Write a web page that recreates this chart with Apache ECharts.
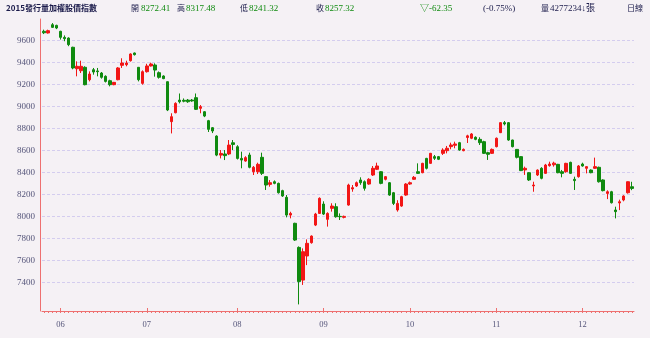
<!DOCTYPE html>
<html><head><meta charset="utf-8">
<script src="https://cdn.jsdelivr.net/npm/echarts@6/dist/echarts.min.js"></script>
<style>html,body{margin:0;padding:0;background:#ffffff}#c{width:650px;height:338px}</style>
</head><body><div id="c"></div>
<script>
const dates = [
'05/26','05/27','05/28','05/29',
'06/01','06/02','06/03','06/04','06/05','06/08','06/09','06/10','06/11','06/12','06/15','06/16','06/17','06/18','06/22','06/23','06/24','06/25','06/26','06/29','06/30',
'07/01','07/02','07/03','07/06','07/07','07/08','07/09','07/13','07/14','07/15','07/16','07/17','07/20','07/21','07/22','07/23','07/24','07/27','07/28','07/29','07/30','07/31',
'08/03','08/04','08/05','08/06','08/07','08/10','08/11','08/12','08/13','08/14','08/17','08/18','08/19','08/20','08/21','08/24','08/25','08/26','08/27','08/28','08/31',
'09/01','09/02','09/03','09/04','09/07','09/08','09/09','09/10','09/11','09/14','09/15','09/16','09/17','09/18','09/21','09/22','09/23','09/24','09/25','09/29','09/30',
'10/01','10/02','10/05','10/06','10/07','10/08','10/12','10/13','10/14','10/15','10/16','10/19','10/20','10/21','10/22','10/23','10/26','10/27','10/28','10/29','10/30',
'11/02','11/03','11/04','11/05','11/06','11/09','11/10','11/11','11/12','11/13','11/16','11/17','11/18','11/19','11/20','11/23','11/24','11/25','11/26','11/27','11/30',
'12/01','12/02','12/03','12/04','12/07','12/08','12/09','12/10','12/11','12/14','12/15','12/16','12/17'
];
const opens = [9685,9670,9745,9739,9685,9630,9624,9540,9345,9327,9358,9245,9336,9325,9306,9276,9236,9200,9245,9376,9382,9418,9488,9358,9212,
9318,9370,9379,9309,9279,9227,8864,8945,9060,9058,9060,9060,9082,8985,8954,8873,8809,8733,8560,8570,8570,8672,
8636,8530,8506,8561,8409,8409,8540,8364,8294,8318,8303,8237,8176,8015,7940,7721,7424,7643,7764,7924,8030,
8115,7976,8076,8091,8003,7994,8106,8252,8279,8334,8318,8297,8379,8431,8409,8340,8309,8218,8061,8097,8197,
8297,8340,8409,8400,8530,8485,8546,8546,8576,8600,8637,8649,8673,8600,8720,8713,8722,8703,8682,8582,8576,
8637,8764,8855,8855,8697,8612,8546,8425,8400,8280,8379,8440,8394,8464,8472,8476,8409,8409,8494,8340,8364,
8479,8440,8424,8440,8449,8334,8212,8227,8061,8125,8152,8218,8272.41];
const closes = [9672,9691,9721,9715,9630,9618,9564,9352,9367,9367,9200,9297,9315,9318,9267,9230,9200,9221,9352,9397,9397,9479,9473,9245,9318,
9370,9388,9333,9267,9255,8970,8909,9030,9045,9050,9045,9052,8976,9000,8915,8794,8779,8560,8575,8555,8651,8657,
8530,8515,8537,8449,8449,8476,8394,8288,8309,8303,8218,8188,8015,8030,7788,7410,7682,7758,7824,8024,8167,
8024,8030,8097,8000,8000,8003,8288,8264,8309,8309,8258,8340,8440,8461,8303,8364,8197,8121,8121,8182,8297,
8309,8358,8394,8485,8440,8576,8531,8522,8606,8622,8652,8661,8606,8612,8735,8752,8703,8673,8576,8567,8612,
8713,8855,8843,8697,8637,8540,8419,8440,8334,8288,8424,8349,8470,8479,8487,8400,8394,8485,8394,8328,8461,
8461,8455,8400,8455,8318,8237,8227,8127,8046,8136,8188,8318,8257.32];
const lows = [9660,9665,9715,9705,9610,9595,9550,9340,9276,9306,9194,9230,9291,9276,9255,9220,9185,9195,9240,9352,9367,9410,9465,9230,9200,
9310,9365,9273,9255,9250,8960,8757,8940,9030,9040,9035,9045,8970,8940,8905,8770,8760,8550,8530,8515,8560,8606,
8520,8440,8500,8440,8379,8388,8379,8243,8273,8295,8210,8180,7994,7985,7780,7203,7380,7560,7755,7915,8025,
8015,7910,8046,7991,7970,7985,8100,8227,8270,8290,8237,8290,8370,8425,8295,8330,8190,8106,8046,8090,8190,
8290,8335,8390,8395,8430,8480,8516,8515,8561,8576,8613,8622,8600,8595,8670,8705,8695,8652,8570,8516,8570,
8630,8760,8830,8690,8630,8530,8415,8380,8325,8227,8370,8340,8390,8455,8455,8395,8358,8400,8390,8243,8355,
8455,8394,8395,8435,8310,8230,8160,8120,7985,8060,8140,8210,8241.32];
const highs = [9700,9700,9760,9745,9690,9648,9630,9545,9412,9418,9367,9321,9352,9352,9315,9285,9245,9225,9360,9440,9418,9485,9492,9360,9330,
9390,9400,9394,9320,9285,9230,8940,9040,9120,9075,9070,9070,9120,9015,8960,8880,8815,8740,8606,8606,8697,8697,
8650,8591,8550,8582,8461,8491,8582,8370,8333,8330,8310,8245,8197,8045,7945,7730,7712,7794,7830,8035,8176,
8140,8040,8122,8122,8030,8010,8300,8288,8320,8358,8330,8350,8461,8491,8415,8370,8315,8225,8150,8190,8305,
8320,8370,8485,8490,8535,8580,8561,8552,8622,8643,8673,8682,8680,8620,8745,8760,8730,8722,8690,8590,8620,
8720,8860,8870,8860,8700,8615,8550,8455,8405,8318,8430,8450,8480,8500,8500,8480,8425,8490,8500,8364,8470,
8491,8460,8430,8537,8455,8340,8240,8235,8091,8155,8195,8320,8317.48];
const yTickValues = [7400,7600,7800,8000,8200,8400,8600,8800,9000,9200,9400,9600];
const monthStart = dates.map((d,i)=> i>0 && d.slice(0,2)!==dates[i-1].slice(0,2));

const UP='#f21616', DOWN='#0f8a0f';
const chart = echarts.init(document.getElementById('c'), null, {renderer:'canvas'});
const ohlc = dates.map((d,i)=>[opens[i],closes[i],lows[i],highs[i]]);
function t(x, text, color, font){
  return {type:'text', left:x, top:4, style:{text:text, fill:color, font: font || "9px 'Liberation Serif','Noto Sans CJK TC'"}};
}
chart.setOption({
  backgroundColor:'#f5f1f5',
  animation:false,
  grid:{left:42, width:592, top:19, height:292},
  xAxis:[{
    type:'category', data:dates, boundaryGap:true,
    axisLine:{lineStyle:{color:'#ee7070', width:1}},
    axisTick:{show:true, interval:0, alignWithLabel:true, length:2, lineStyle:{color:'#ee7070'}},
    axisLabel:{interval:(i)=>monthStart[i], formatter:(v)=>v.slice(0,2), margin:9, fontFamily:'Liberation Serif', fontSize:8.5, color:'#55557a'},
    splitLine:{show:false}
  },{
    type:'category', data:dates, boundaryGap:true, position:'bottom', gridIndex:0,
    axisLine:{show:false},
    axisTick:{show:true, interval:(i)=>monthStart[i], alignWithLabel:true, inside:true, length:3, lineStyle:{color:'#ee7070'}},
    axisLabel:{show:false}, splitLine:{show:false}
  }],
  yAxis:{
    type:'value', min:7143, max:9797, offset:2,
    axisLine:{show:true, lineStyle:{color:'#ee7070'}},
    axisTick:{show:false, customValues:yTickValues},
    axisLabel:{customValues:yTickValues, formatter:(v)=>String(v), margin:5, fontFamily:'Liberation Serif', fontSize:9, color:'#55557a'},
    splitLine:{show:true, lineStyle:{color:'#d4cdef', type:[3,2], width:1}}
  },
  series:[{
    type:'candlestick', data:ohlc, barWidth:3,
    itemStyle:{color:UP, color0:DOWN, borderColor:UP, borderColor0:DOWN, borderWidth:1}
  }],
  graphic:[
    t(6,'2015發行量加權股價指數','#1a1a4a',"bold 8px 'Noto Sans CJK TC'"),
    t(131,'開','#1a1a4a',"8px 'Noto Sans CJK TC'"), t(141,'8272.41','#0f8a0f'),
    t(177,'高','#1a1a4a',"8px 'Noto Sans CJK TC'"), t(186,'8317.48','#0f8a0f'),
    t(240,'低','#1a1a4a',"8px 'Noto Sans CJK TC'"), t(249,'8241.32','#0f8a0f'),
    t(316,'收','#1a1a4a',"8px 'Noto Sans CJK TC'"), t(325,'8257.32','#0f8a0f'),
    t(420,'▽-62.35','#0f8a0f'),
    t(483,'(-0.75%)','#1a1a4a'),
    t(541,'量','#1a1a4a',"8px 'Noto Sans CJK TC'"), t(550,'4277234↓張','#1a1a4a'),
    t(627,'日線','#1a1a4a',"8px 'Noto Sans CJK TC'")
  ]
});
</script></body></html>
